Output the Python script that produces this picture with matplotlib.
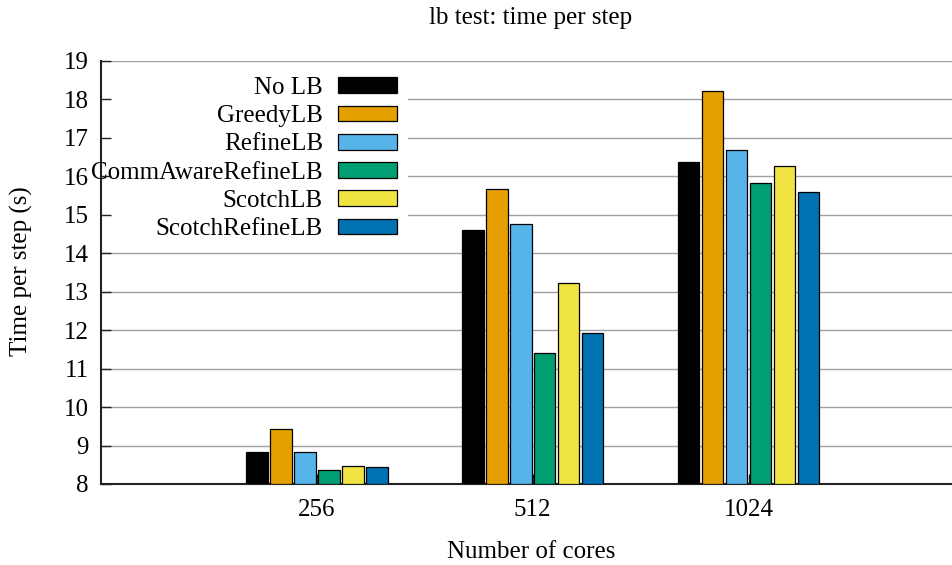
import numpy as np
import matplotlib.pyplot as plt
from matplotlib.patches import Rectangle

plt.rcParams['font.family'] = ['Liberation Serif', 'DejaVu Serif']
plt.rcParams['font.size'] = 18

cores = ['256', '512', '1024']
methods = ['No LB', 'GreedyLB', 'RefineLB', 'CommAwareRefineLB', 'ScotchLB', 'ScotchRefineLB']
colors = ['#000000', '#E69F00', '#56B4E9', '#009E73', '#F0E442', '#0072B2']

no_lb = [8.84, 14.61, 16.37]
greedy = [9.42, 15.66, 18.21]
refine = [8.82, 14.76, 16.68]
comm_aware = [8.36, 11.40, 15.82]
scotch = [8.46, 13.22, 16.28]
scotch_refine = [8.43, 11.92, 15.60]
series = [no_lb, greedy, refine, comm_aware, scotch, scotch_refine]
yticks = list(range(8, 20))

W, H = 953, 565
fig = plt.figure(figsize=(W / 100, H / 100), dpi=100)
# axes extends a little past the right edge, like the original
ax = fig.add_axes([101 / W, (H - 484) / H, 863.4 / W, 423 / H])

x = np.arange(len(cores))
step = 1 / 9
for i, (name, vals) in enumerate(zip(methods, series)):
    ax.bar(x + (i - 2.5) * step, np.array(vals) - 8, width=0.1, bottom=8,
           color=colors[i], edgecolor='black', linewidth=0.9, label=name, zorder=3)

# grid by hand so ticks/spines can stay on top of the key's white box
for yv in yticks[1:]:
    ax.axhline(yv, color='#a0a0a0', linewidth=1.0, zorder=1)
ax.add_patch(Rectangle((0, 0.572), 0.3556, 0.416, transform=ax.transAxes,
                       facecolor='white', edgecolor='none', zorder=1.5))

ax.set_xlim(-1, 3)
ax.set_ylim(8, 19)
ax.set_yticks(yticks)
ax.set_xticks(x)
ax.set_xticklabels(cores)
ax.set_axisbelow(False)

for s in ['top', 'right']:
    ax.spines[s].set_visible(False)
for s in ['left', 'bottom']:
    ax.spines[s].set_color('#222222')
    ax.spines[s].set_linewidth(1.5)
ax.tick_params(direction='in', length=7, width=1, color='#222222')
ax.tick_params(axis='y', pad=9)
ax.tick_params(axis='x', pad=11)

fig.text(531 / W, 1 - 24 / H, 'lb test: time per step', ha='center', va='baseline')
fig.text(531 / W, 1 - 558 / H, 'Number of cores', ha='center', va='baseline')
fig.text(21 / W, 1 - 271 / H, 'Time per step (s)', ha='center', va='center', rotation=90)

leg = ax.legend(loc='upper right', bbox_to_anchor=(397 / W, 1 - 77 / H),
                bbox_transform=fig.transFigure, markerfirst=False, frameon=False,
                handlelength=2.36, handleheight=0.6, handletextpad=0.6,
                labelspacing=0.25, borderaxespad=0, borderpad=0)
leg.set_zorder(4)

fig.savefig('out.png', dpi=100)
